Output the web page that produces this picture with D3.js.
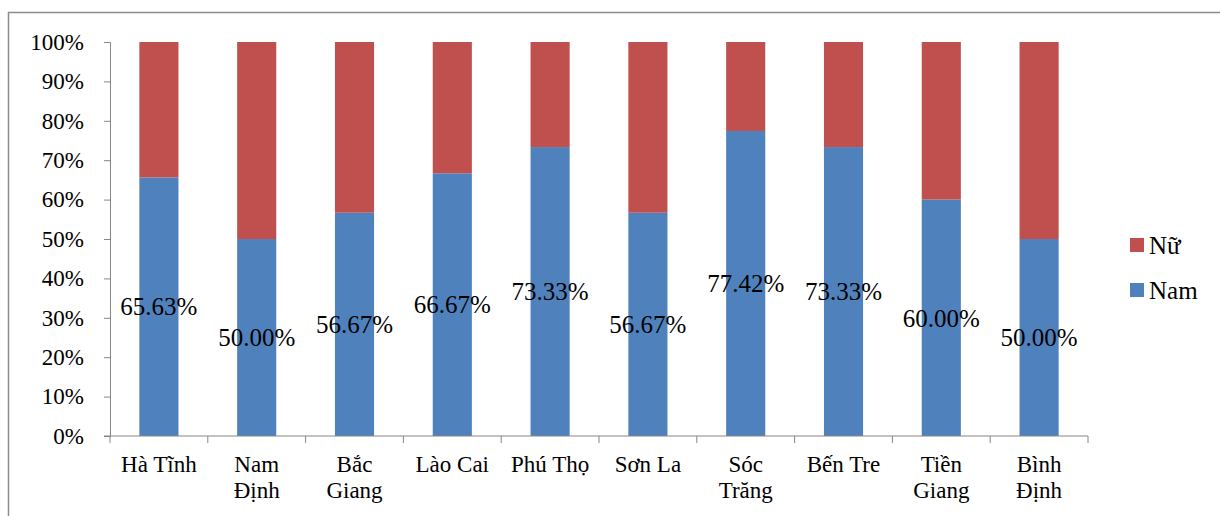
<!DOCTYPE html>
<html>
<head>
<meta charset="utf-8">
<script src="https://cdn.jsdelivr.net/npm/d3@7"></script>
<style>
  html, body { margin: 0; padding: 0; background: #fff; }
  svg { display: block; }
  svg text { font-family: "Liberation Serif", "Times New Roman", serif !important; fill: #000; }
</style>
</head>
<body>
<svg id="chart" width="1220" height="516"></svg>
<script>
// Provinces (each label split into its display lines)
const provinces = [
  ["Hà Tĩnh"], ["Nam", "Định"], ["Bắc", "Giang"], ["Lào Cai"], ["Phú Thọ"],
  ["Sơn La"], ["Sóc", "Trăng"], ["Bến Tre"], ["Tiền", "Giang"], ["Bình", "Định"]
];
// Share of male respondents (%) per province
const namShare = [65.63, 50.00, 56.67, 66.67, 73.33, 56.67, 77.42, 73.33, 60.00, 50.00];
// Share of female respondents (%) per province
const nuShare = namShare.map(v => 100 - v);
const yTicks = [0, 10, 20, 30, 40, 50, 60, 70, 80, 90, 100];
const seriesNames = ["Nam", "Nữ"];
const seriesColors = ["#4F81BD", "#C0504D"];

const svg = d3.select("#chart");
const axisColor = "#868686";

// outer frame
svg.append("path")
  .attr("d", "M8.5,516 L8.5,12.5 L1220,12.5")
  .attr("fill", "none").attr("stroke", "#8c8c8c").attr("stroke-width", 1.5);

const plot = { left: 110, right: 1088, top: 42, bottom: 436 };
const keys = provinces.map((p, i) => i);

const x = d3.scaleBand().domain(keys).range([plot.left, plot.right]).paddingInner(0.6).paddingOuter(0.3);
const xCat = d3.scaleBand().domain(keys).range([plot.left, plot.right]);
const y = d3.scaleLinear().domain([0, 100]).range([plot.bottom, plot.top]);

const rows = keys.map(i => ({ i, Nam: namShare[i], "Nữ": nuShare[i] }));
const stacked = d3.stack().keys(seriesNames)(rows);

svg.append("g").selectAll("g").data(stacked).join("g")
  .attr("fill", (d, k) => seriesColors[k])
  .selectAll("rect").data(d => d).join("rect")
  .attr("x", d => x(d.data.i))
  .attr("width", x.bandwidth())
  .attr("y", d => y(d[1]))
  .attr("height", d => y(d[0]) - y(d[1]));

// y axis
const yAxis = svg.append("g").attr("transform", `translate(${plot.left},0)`)
  .call(d3.axisLeft(y).tickValues(yTicks).tickFormat(d => d + "%").tickSizeOuter(0).tickSize(6).tickPadding(20));
yAxis.attr("font-family", null).attr("font-size", 23);
yAxis.select(".domain").attr("stroke", axisColor);
yAxis.selectAll(".tick line").attr("stroke", axisColor);
yAxis.selectAll("text").attr("font-size", 23);

// x axis with ticks between categories
const xAxisG = svg.append("g").attr("transform", `translate(0,${plot.bottom})`);
xAxisG.append("line").attr("x1", plot.left - 6).attr("x2", plot.right)
  .attr("stroke", axisColor);
xAxisG.selectAll("line.tk").data(d3.range(keys.length + 1)).join("line")
  .attr("class", "tk")
  .attr("x1", i => i < keys.length ? xCat(i) : plot.right)
  .attr("x2", i => i < keys.length ? xCat(i) : plot.right)
  .attr("y1", 0).attr("y2", 7).attr("stroke", axisColor);

xAxisG.selectAll("text.cat").data(keys).join("text")
  .attr("class", "cat")
  .attr("x", i => xCat(i) + xCat.bandwidth() / 2)
  .attr("y", 36)
  .attr("text-anchor", "middle")
  .attr("font-size", 23)
  .selectAll("tspan").data(i => provinces[i].map(t => ({ t, i }))).join("tspan")
  .attr("x", d => xCat(d.i) + xCat.bandwidth() / 2)
  .attr("dy", (d, j) => j === 0 ? 0 : 26)
  .text(d => d.t);

// value labels centred in the male segment
svg.append("g").selectAll("text").data(stacked[0]).join("text")
  .attr("x", d => x(d.data.i) + x.bandwidth() / 2)
  .attr("y", d => (y(d[0]) + y(d[1])) / 2)
  .attr("dy", "0.35em")
  .attr("text-anchor", "middle")
  .attr("font-size", 25)
  .text(d => d.data.Nam.toFixed(2) + "%");

// legend
const legendItems = [{ name: "Nữ", color: seriesColors[1] }, { name: "Nam", color: seriesColors[0] }];
const legend = svg.append("g").attr("transform", "translate(1130,238)");
const li = legend.selectAll("g").data(legendItems).join("g")
  .attr("transform", (d, k) => `translate(0,${k * 45})`);
li.append("rect").attr("width", 14).attr("height", 14).attr("fill", d => d.color);
li.append("text").attr("x", 19).attr("y", 7).attr("dy", "0.35em")
  .attr("font-size", 25).text(d => d.name);
</script>
</body>
</html>
